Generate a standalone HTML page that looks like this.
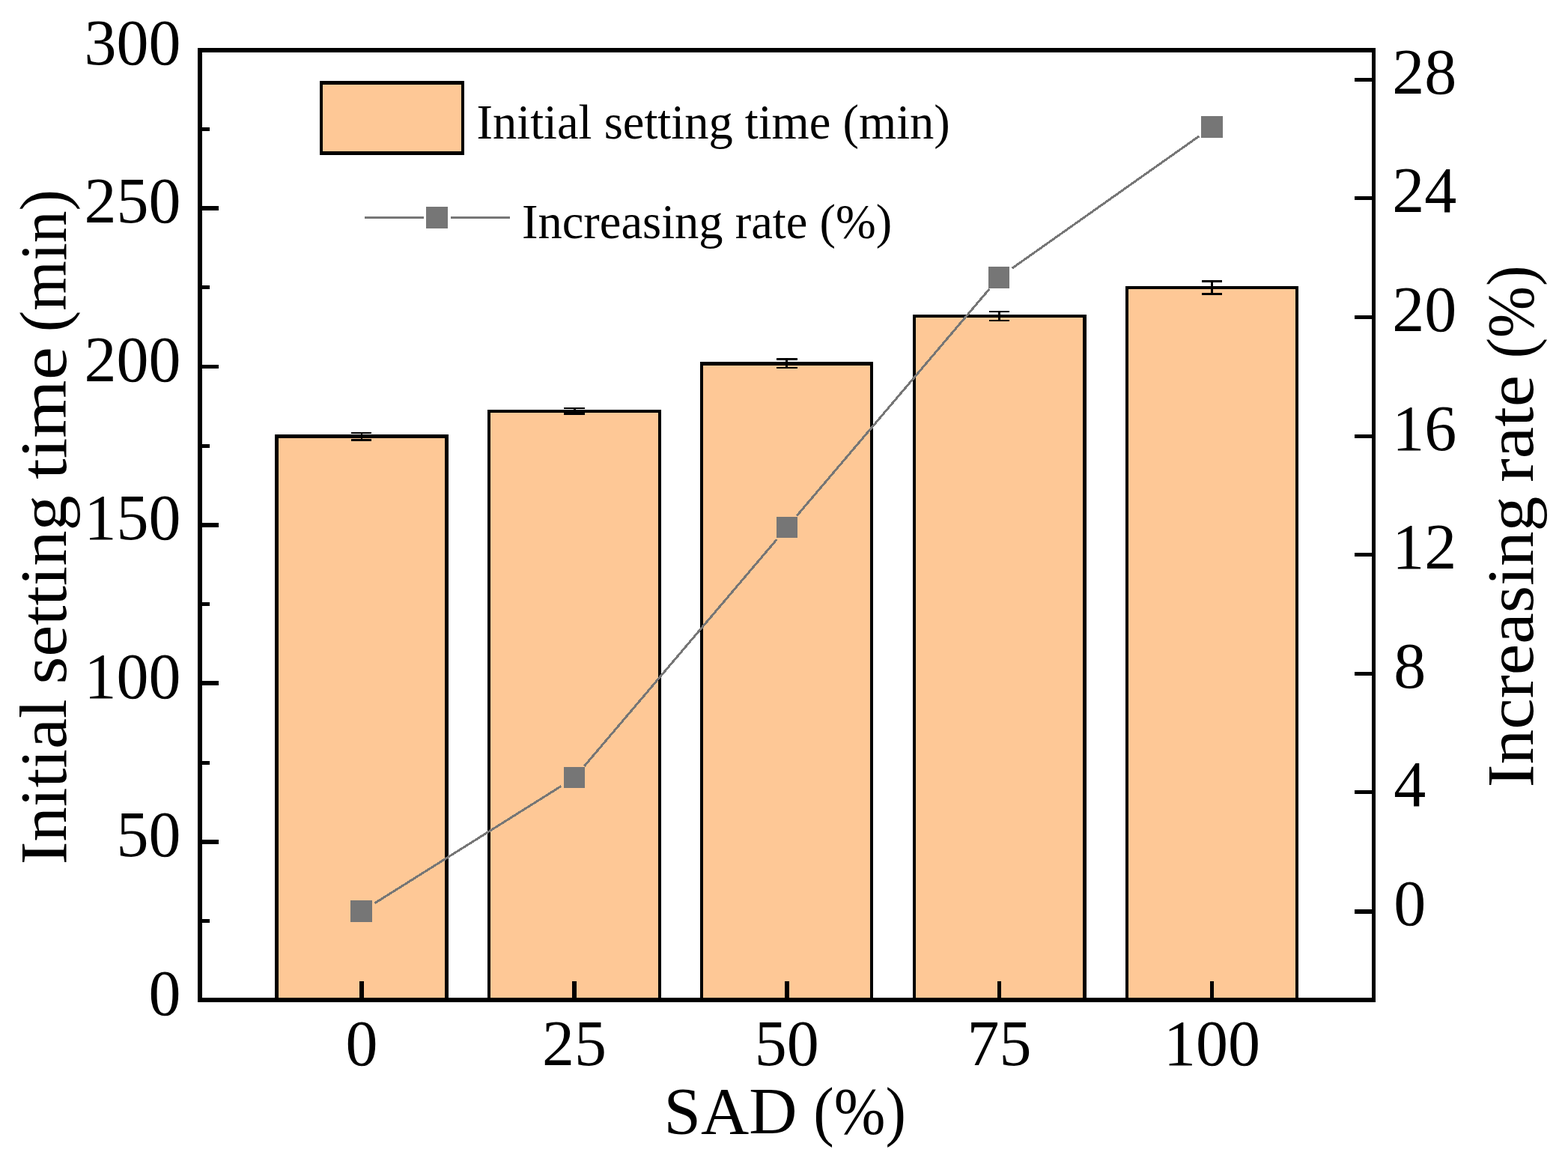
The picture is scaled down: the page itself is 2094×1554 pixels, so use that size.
<!DOCTYPE html>
<html lang="en"><head><meta charset="utf-8"><title>Initial setting time vs SAD</title>
<style>html,body{margin:0;padding:0;background:#fff;overflow:hidden}svg{display:block}text{font-family:"Liberation Serif","DejaVu Serif",serif;fill:#000}.tk{font-size:86px}.lg{font-size:64.5px}.ti{font-size:88px}</style></head><body>
<svg width="2094" height="1554" viewBox="0 0 2094 1554">
<rect width="2094" height="1554" fill="#fff"/>
<g shape-rendering="crispEdges">
<rect x="367" y="580" width="232" height="755" fill="#000"/>
<rect x="372" y="585" width="222" height="747" fill="#FEC896"/>
<rect x="651" y="547" width="232" height="788" fill="#000"/>
<rect x="655" y="551" width="224" height="781" fill="#FEC896"/>
<rect x="935" y="483" width="231" height="852" fill="#000"/>
<rect x="939" y="488" width="223" height="844" fill="#FEC896"/>
<rect x="1219" y="420" width="232" height="915" fill="#000"/>
<rect x="1223" y="424" width="223" height="908" fill="#FEC896"/>
<rect x="1503" y="382" width="231" height="953" fill="#000"/>
<rect x="1507" y="386" width="223" height="946" fill="#FEC896"/>
</g>
<g shape-rendering="crispEdges" fill="#000">
<rect x="469" y="577" width="27" height="2"/>
<rect x="469" y="586" width="27" height="3"/>
<rect x="482" y="577" width="2" height="12"/>
<rect x="753" y="544" width="28" height="2"/>
<rect x="753" y="551" width="28" height="3"/>
<rect x="766" y="544" width="3" height="10"/>
<rect x="1037" y="478" width="28" height="3"/>
<rect x="1037" y="490" width="28" height="2"/>
<rect x="1049" y="478" width="3" height="14"/>
<rect x="1321" y="415" width="27" height="2"/>
<rect x="1321" y="427" width="27" height="2"/>
<rect x="1333" y="415" width="3" height="14"/>
<rect x="1605" y="374" width="27" height="3"/>
<rect x="1605" y="391" width="27" height="3"/>
<rect x="1617" y="374" width="3" height="20"/>
</g>
<g stroke="#767676" stroke-width="3" fill="none" shape-rendering="crispEdges">
<line x1="500.6" y1="1205.7" x2="749.3" y2="1049.6"/>
<line x1="780.4" y1="1022.7" x2="1037.3" y2="720.2"/>
<line x1="1064.2" y1="688.5" x2="1321.1" y2="386.0"/>
<line x1="1351.6" y1="358.2" x2="1601.5" y2="181.7"/>
</g>
<g fill="#767676" shape-rendering="crispEdges">
<rect x="468" y="1202" width="29" height="29"/>
<rect x="753" y="1024" width="28" height="28"/>
<rect x="1037" y="690" width="28" height="28"/>
<rect x="1320" y="356" width="28" height="29"/>
<rect x="1604" y="155" width="29" height="29"/>
</g>
<g fill="#000" shape-rendering="crispEdges">
<rect x="264" y="64" width="1573" height="6"/>
<rect x="264" y="1332" width="1573" height="6"/>
<rect x="264" y="64" width="6" height="1274"/>
<rect x="1832" y="64" width="5" height="1274"/>
<rect x="270" y="275" width="22" height="6"/>
<rect x="270" y="487" width="22" height="5"/>
<rect x="270" y="698" width="22" height="6"/>
<rect x="270" y="909" width="22" height="6"/>
<rect x="270" y="1121" width="22" height="6"/>
<rect x="270" y="1227" width="10" height="5"/>
<rect x="270" y="1016" width="10" height="5"/>
<rect x="270" y="804" width="10" height="5"/>
<rect x="270" y="593" width="10" height="5"/>
<rect x="270" y="381" width="10" height="5"/>
<rect x="270" y="170" width="10" height="5"/>
<rect x="1809" y="1214" width="23" height="6"/>
<rect x="1809" y="1055" width="23" height="5"/>
<rect x="1809" y="897" width="23" height="5"/>
<rect x="1809" y="738" width="23" height="5"/>
<rect x="1809" y="580" width="23" height="5"/>
<rect x="1809" y="421" width="23" height="5"/>
<rect x="1809" y="262" width="23" height="5"/>
<rect x="1809" y="104" width="23" height="5"/>
<rect x="480" y="1310" width="6" height="22"/>
<rect x="764" y="1310" width="6" height="22"/>
<rect x="1048" y="1310" width="6" height="22"/>
<rect x="1332" y="1310" width="5" height="22"/>
<rect x="1616" y="1310" width="5" height="22"/>
</g>
<g class="tk">
<text x="241.4" y="1354.5" text-anchor="end">0</text>
<text x="241.4" y="1143.0" text-anchor="end">50</text>
<text x="241.4" y="931.5" text-anchor="end">100</text>
<text x="241.4" y="720.0" text-anchor="end">150</text>
<text x="241.4" y="508.5" text-anchor="end">200</text>
<text x="241.4" y="297.0" text-anchor="end">250</text>
<text x="241.4" y="85.5" text-anchor="end">300</text>
<text x="1861.3" y="1235.0">0</text>
<text x="1861.3" y="1076.3">4</text>
<text x="1861.3" y="917.7">8</text>
<text x="1859.2" y="759.1">12</text>
<text x="1859.2" y="600.5">16</text>
<text x="1859.2" y="441.8">20</text>
<text x="1859.2" y="283.2">24</text>
<text x="1859.2" y="124.6">28</text>
<text x="483.0" y="1422" text-anchor="middle">0</text>
<text x="766.9" y="1422" text-anchor="middle">25</text>
<text x="1050.8" y="1422" text-anchor="middle">50</text>
<text x="1334.6" y="1422" text-anchor="middle">75</text>
<text x="1618.5" y="1422" text-anchor="middle">100</text>
</g>
<g shape-rendering="crispEdges">
<rect x="427" y="108" width="193" height="99" fill="#000"/>
<rect x="431" y="113" width="185" height="89" fill="#FEC896"/>
<rect x="487" y="289" width="79" height="3" fill="#767676"/>
<rect x="602" y="289" width="79" height="3" fill="#767676"/>
<rect x="569" y="276" width="29" height="29" fill="#767676"/>
</g>
<text class="lg" x="636.5" y="185">Initial setting time (min)</text>
<text class="lg" x="697" y="318">Increasing rate (%)</text>
<text class="ti" y="1513"><tspan x="886.6" textLength="178" lengthAdjust="spacingAndGlyphs">SAD</tspan> <tspan x="1086.35" textLength="123.6" lengthAdjust="spacingAndGlyphs">(%)</tspan></text>
<text class="ti" transform="translate(88 0) rotate(-90)"><tspan x="-1154.2" textLength="220.9" lengthAdjust="spacingAndGlyphs">Initial</tspan> <tspan x="-913.6" textLength="252.4" lengthAdjust="spacingAndGlyphs">setting</tspan> <tspan x="-640" textLength="176.8" lengthAdjust="spacingAndGlyphs">time</tspan> <tspan x="-443.3" textLength="190.4" lengthAdjust="spacingAndGlyphs">(min)</tspan></text>
<text class="ti" transform="translate(2047.3 0) rotate(-90)"><tspan x="-1051.5" textLength="388.8" lengthAdjust="spacingAndGlyphs">Increasing</tspan> <tspan x="-644.1" textLength="143.2" lengthAdjust="spacingAndGlyphs">rate</tspan> <tspan x="-478.6" textLength="124.1" lengthAdjust="spacingAndGlyphs">(%)</tspan></text>
</svg></body></html>
